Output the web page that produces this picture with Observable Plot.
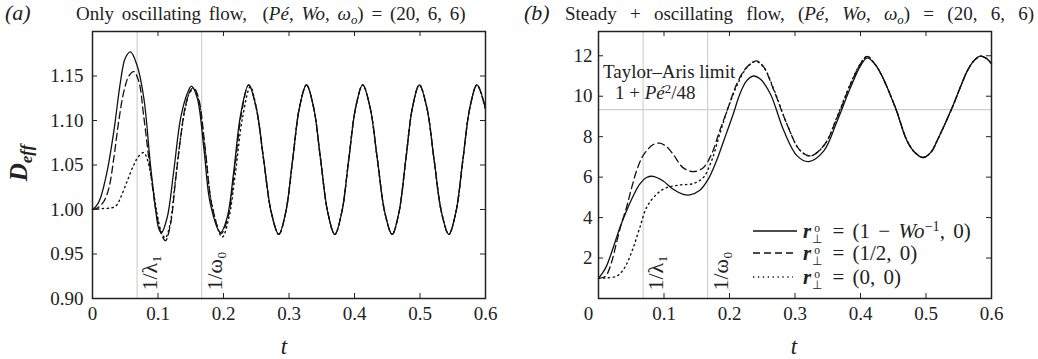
<!DOCTYPE html>
<html>
<head>
<meta charset="utf-8">
<script src="https://cdn.jsdelivr.net/npm/d3@7"></script>
<script src="https://cdn.jsdelivr.net/npm/@observablehq/plot@0.6"></script>
<style>
  body { margin: 0; background: #fff; }
  #wrap { position: relative; width: 1038px; height: 359px; font-family: "Liberation Serif", serif; color: #222; overflow: hidden; }
  .abs { position: absolute; white-space: nowrap; }
  .title { font-size: 19px; line-height: 1; word-spacing: 3px; }
  .tag { font-size: 22px; font-style: italic; line-height: 1; }
  sub, sup { font-size: 0.68em; line-height: 0; }
  sub { vertical-align: -0.28em; }
  sup { vertical-align: 0.5em; }
  .leg { display: flex; align-items: center; height: 22px; font-size: 21px; word-spacing: 3px; }
  .ss { display: inline-flex; flex-direction: column; font-size: 0.55em; line-height: 0.9; vertical-align: middle; margin-left: 1px; margin-right: 2px; text-align: center; position: relative; top: 1px; }
</style>
</head>
<body>
<div id="wrap">
  <div id="pa" class="abs" style="left:0;top:0"></div>
  <div id="pb" class="abs" style="left:519px;top:0"></div>

  <div class="abs tag" style="left:5px;top:2px">(<i>a</i>)</div>
  <div class="abs title" style="left:76px;top:4px">Only oscillating flow, &nbsp;(<i>Pé</i>, <i>Wo</i>, <i>ω<sub>o</sub></i>) = (20, 6, 6)</div>
  <div class="abs tag" style="left:524px;top:2px">(<i>b</i>)</div>
  <div class="abs title" style="left:565px;top:4px;word-spacing:8.5px;">Steady + oscillating flow, (<i>Pé</i>, <i>Wo</i>, <i>ω<sub>o</sub></i>) = (20, 6, 6)</div>

  <div class="abs" style="left:19px;top:163px;transform:translate(-50%,-50%) rotate(-90deg);font-size:25px;font-style:italic;font-weight:bold;">D<sub>eff</sub></div>
  <div class="abs" style="left:284px;top:346px;transform:translate(-50%,-50%);font-size:23px;line-height:1;font-style:italic;">t</div>
  <div class="abs" style="left:794px;top:346px;transform:translate(-50%,-50%);font-size:23px;line-height:1;font-style:italic;">t</div>

  <div class="abs" style="left:603px;top:62px;font-size:19px;line-height:20px;">Taylor–Aris limit</div>
  <div class="abs" style="left:615px;top:83px;font-size:19px;line-height:20px;">1 + <i>Pé</i><sup>2</sup>/48</div>

  <div id="legend"></div>
</div>
<script>
// ---------------- data ----------------
// panel (a): only oscillating flow
const aSolidT = [0,0.006,0.0122,0.0224,0.0326,0.0427,0.050,0.058,0.068,0.0784,0.0885,0.096,0.101,0.1053,0.114,0.124,0.1344,0.1445,0.151,0.16,0.17,0.18,0.1954,0.2056,0.2157,0.226,0.2383];
const aSolidD = [1.0,1.004,1.013,1.043,1.088,1.1435,1.17,1.177,1.162,1.125,1.05,1.002,0.979,0.974,0.991,1.043,1.102,1.130,1.1387,1.125,1.069,1.006,0.974,0.991,1.043,1.106,1.140];
const aDashT = [0,0.008,0.0173,0.025,0.0326,0.040,0.048,0.0555,0.063,0.0707,0.078,0.0885,0.0987,0.1064,0.1115,0.119,0.1267,0.1344,0.142,0.1496,0.1547,0.162,0.172,0.182,0.1965,0.2066,0.2167,0.227,0.2385];
const aDashD = [1.0,1.002,1.009,1.024,1.058,1.099,1.133,1.150,1.155,1.144,1.106,1.043,0.991,0.970,0.965,0.983,1.032,1.080,1.117,1.134,1.137,1.125,1.069,1.006,0.973,0.991,1.043,1.106,1.140];
const aDotT = [0,0.015,0.03,0.037,0.0427,0.053,0.063,0.0707,0.078,0.083,0.09,0.098,0.105,0.111,0.118,0.126,0.134,0.142,0.149,0.155,0.162,0.172,0.183,0.198,0.208,0.218,0.229,0.241];
const aDotD = [1.0,1.001,1.002,1.005,1.013,1.032,1.050,1.060,1.064,1.058,1.035,0.998,0.975,0.968,0.982,1.030,1.078,1.115,1.132,1.135,1.122,1.066,1.003,0.969,0.99,1.04,1.103,1.138];
// shared periodic tail (all three curves coincide)
const aTailT = [0.2498,0.2613,0.2729,0.2844,0.2950,0.3056,0.3161,0.3267,0.3375,0.3483,0.3591,0.3699,0.3806,0.3912,0.4019,0.4125,0.4237,0.4350,0.4462,0.4575,0.4679,0.4783,0.4886,0.4990,0.5103,0.5215,0.5328,0.5440,0.5548,0.5655,0.5763,0.5870,0.6];
const aTailD = [1.115,1.056,0.997,0.972,0.997,1.056,1.115,1.140,1.115,1.056,0.997,0.972,0.997,1.056,1.115,1.140,1.115,1.056,0.997,0.972,0.997,1.056,1.115,1.140,1.115,1.056,0.997,0.972,0.997,1.056,1.115,1.140,1.113];

// panel (b): steady + oscillating flow
const bSolidT = [0,0.006,0.0122,0.0224,0.0326,0.0427,0.053,0.063,0.0733,0.0835,0.0987,0.114,0.1293,0.1394,0.1547,0.1675,0.180,0.193,0.2056,0.2157,0.226,0.2366,0.247,0.2626,0.283,0.3033,0.321,0.344,0.3644,0.3847,0.40,0.4102];
const bSolidD = [1.0,1.25,1.6,2.51,3.5,4.33,5.07,5.65,5.98,6.04,5.81,5.40,5.15,5.12,5.35,5.9,6.8,7.96,9.11,10.1,10.76,11.0,10.85,10.1,8.29,7.05,6.77,7.3,8.78,10.43,11.5,11.9];
const bDashT = [0,0.008,0.0122,0.02,0.0275,0.035,0.0427,0.05,0.058,0.066,0.0733,0.083,0.0936,0.104,0.114,0.129,0.1445,0.16,0.1725,0.185,0.198,0.211,0.226,0.241,0.252,0.267,0.288,0.307,0.3237,0.345,0.365,0.385,0.40,0.4102];
const bDashD = [1.0,1.05,1.15,1.8,2.76,3.7,4.49,5.4,6.3,6.95,7.3,7.6,7.68,7.5,7.13,6.47,6.27,6.47,7.13,8.29,9.44,10.6,11.42,11.75,11.45,10.35,8.6,7.35,7.05,7.6,9.0,10.6,11.6,11.97];
const bDotT = [0,0.0122,0.0275,0.035,0.0427,0.053,0.063,0.0733,0.0885,0.1038,0.124,0.1445,0.16,0.1725,0.185,0.198,0.211,0.226,0.24,0.252,0.267,0.288,0.307,0.3237,0.345,0.365,0.385,0.40,0.4102];
const bDotD = [1.0,1.02,1.1,1.3,1.69,2.51,3.5,4.49,5.15,5.48,5.61,5.68,5.98,6.8,8.12,9.44,10.5,11.4,11.72,11.45,10.4,8.6,7.35,7.05,7.6,9.05,10.65,11.62,11.97];
const bTailT = [0.4205,0.4305,0.4532,0.471,0.483,0.4957,0.508,0.517,0.54,0.563,0.573,0.583,0.593,0.6];
const bTailD = [11.65,11.15,9.44,7.8,7.22,6.97,7.25,7.8,9.44,11.25,11.75,11.98,11.85,11.6];

// reference times and limit
const guideTimes = [0.0681, 0.1667];          // 1/λ1, 1/ω0
const guideLabels = ["1/λ₁", "1/ω₀"];
const taylorAris = [1 + 20 * 20 / 48];

// ticks
const xTicks = [0, 0.1, 0.2, 0.3, 0.4, 0.5, 0.6];
const xTicksB = [0.1, 0.2, 0.3, 0.4, 0.5, 0.6];
const yTicksA = [0.90, 0.95, 1.00, 1.05, 1.10, 1.15];
const yTicksB = [2, 4, 6, 8, 10, 12];

// legend
const legendLabels = [
  ' = (1 − <i>Wo</i><sup>−1</sup>, 0)',
  ' = (1/2, 0)',
  ' = (0, 0)'
];

// ---------------- build ----------------
const rows = (ts, ds) => ts.map((t, i) => ({ t, d: ds[i] }));
const styles = {
  solid: { stroke: "#111", strokeWidth: 1.3 },
  dash: { stroke: "#111", strokeWidth: 1.3, strokeDasharray: "7,4" },
  dot: { stroke: "#111", strokeWidth: 1.4, strokeDasharray: "1.3,3.6" }
};

const W = 519, H = 359, MT = 31, MB = 61;
const innerH = H - MT - MB;

function panel({ ml, mr, ydom, yticks, xticks, ytickPad, yfmt, series, tail, extra }) {
  const innerW = W - ml - mr;
  const lines = series.map(([ts, ds, st]) =>
    Plot.line(rows(ts, ds).concat(rows(tail[0], tail[1])), { x: "t", y: "d", curve: "catmull-rom", ...styles[st] })
  );
  return Plot.plot({
    width: W, height: H,
    marginLeft: ml, marginRight: mr, marginTop: MT, marginBottom: MB,
    x: { domain: [0, 0.6] },
    y: { domain: ydom },
    style: { fontFamily: "Liberation Serif, serif", fontSize: "19px", background: "transparent", color: "#222", overflow: "visible" },
    marks: [
      Plot.ruleX(guideTimes, { x: d => d, stroke: "#c8c8c8", strokeWidth: 1 }),
      ...(extra || []),
      Plot.text(guideTimes, { x: d => d, text: (d, i) => guideLabels[i], frameAnchor: "bottom", rotate: -90, textAnchor: "start", dx: 20, dy: -8, fontSize: 22, fill: "#222" }),
      ...lines,
      // inward ticks on all four sides
      Plot.ruleX(xTicks, { x: d => d, insetTop: innerH - 5, stroke: "#222", strokeWidth: 1 }),
      Plot.ruleX(xTicks, { x: d => d, insetBottom: innerH - 5, stroke: "#222", strokeWidth: 1 }),
      Plot.ruleY(yticks, { y: d => d, insetRight: innerW - 5, stroke: "#222", strokeWidth: 1 }),
      Plot.ruleY(yticks, { y: d => d, insetLeft: innerW - 5, stroke: "#222", strokeWidth: 1 }),
      Plot.frame({ stroke: "#222", strokeWidth: 1.5 }),
      Plot.axisX({ ticks: xticks, tickSize: 0, tickPadding: 8, tickFormat: d => String(d), label: null }),
      Plot.axisY({ ticks: yticks, tickSize: 0, tickPadding: ytickPad, tickFormat: yfmt, label: null })
    ]
  });
}

const chartA = panel({
  ml: 92, mr: 34, ydom: [0.9, 1.2], yticks: yTicksA, xticks: xTicks, ytickPad: 9,
  yfmt: d => d.toFixed(2),
  series: [[aSolidT, aSolidD, "solid"], [aDashT, aDashD, "dash"], [aDotT, aDotD, "dot"]],
  tail: [aTailT, aTailD]
});
document.getElementById("pa").appendChild(chartA);

const chartB = panel({
  ml: 79, mr: 47, ydom: [0, 13.2], yticks: yTicksB, xticks: xTicksB, ytickPad: 6,
  yfmt: d => String(d),
  series: [[bSolidT, bSolidD, "solid"], [bDashT, bDashD, "dash"], [bDotT, bDotD, "dot"]],
  tail: [bTailT, bTailD],
  extra: [
    Plot.ruleY(taylorAris, { y: d => d, stroke: "#d0d0d0", strokeWidth: 1.2 }),
    Plot.text([0], { x: d => d, text: d => String(d), frameAnchor: "bottom", lineAnchor: "top", dy: 8, dx: -10, fill: "#222" })
  ]
});
document.getElementById("pb").appendChild(chartB);

// legend
const legend = document.getElementById("legend");
const legTops = [220, 242, 266];
["solid", "dash", "dot"].forEach((st, i) => {
  const row = document.createElement("div");
  row.className = "abs leg";
  row.style.left = "753px";
  row.style.top = legTops[i] + "px";
  const s = styles[st];
  row.innerHTML =
    `<svg width="45" height="10" style="margin-right:5px"><line x1="0" y1="5" x2="${st === "solid" ? 44 : 40}" y2="5" stroke="#111" stroke-width="${s.strokeWidth}" ${s.strokeDasharray ? `stroke-dasharray="${s.strokeDasharray}"` : ""}/></svg>` +
    `<span><b><i>r</i></b><span class="ss"><span>o</span><span>⊥</span></span>${legendLabels[i]}</span>`;
  legend.appendChild(row);
});
</script>
</body>
</html>
